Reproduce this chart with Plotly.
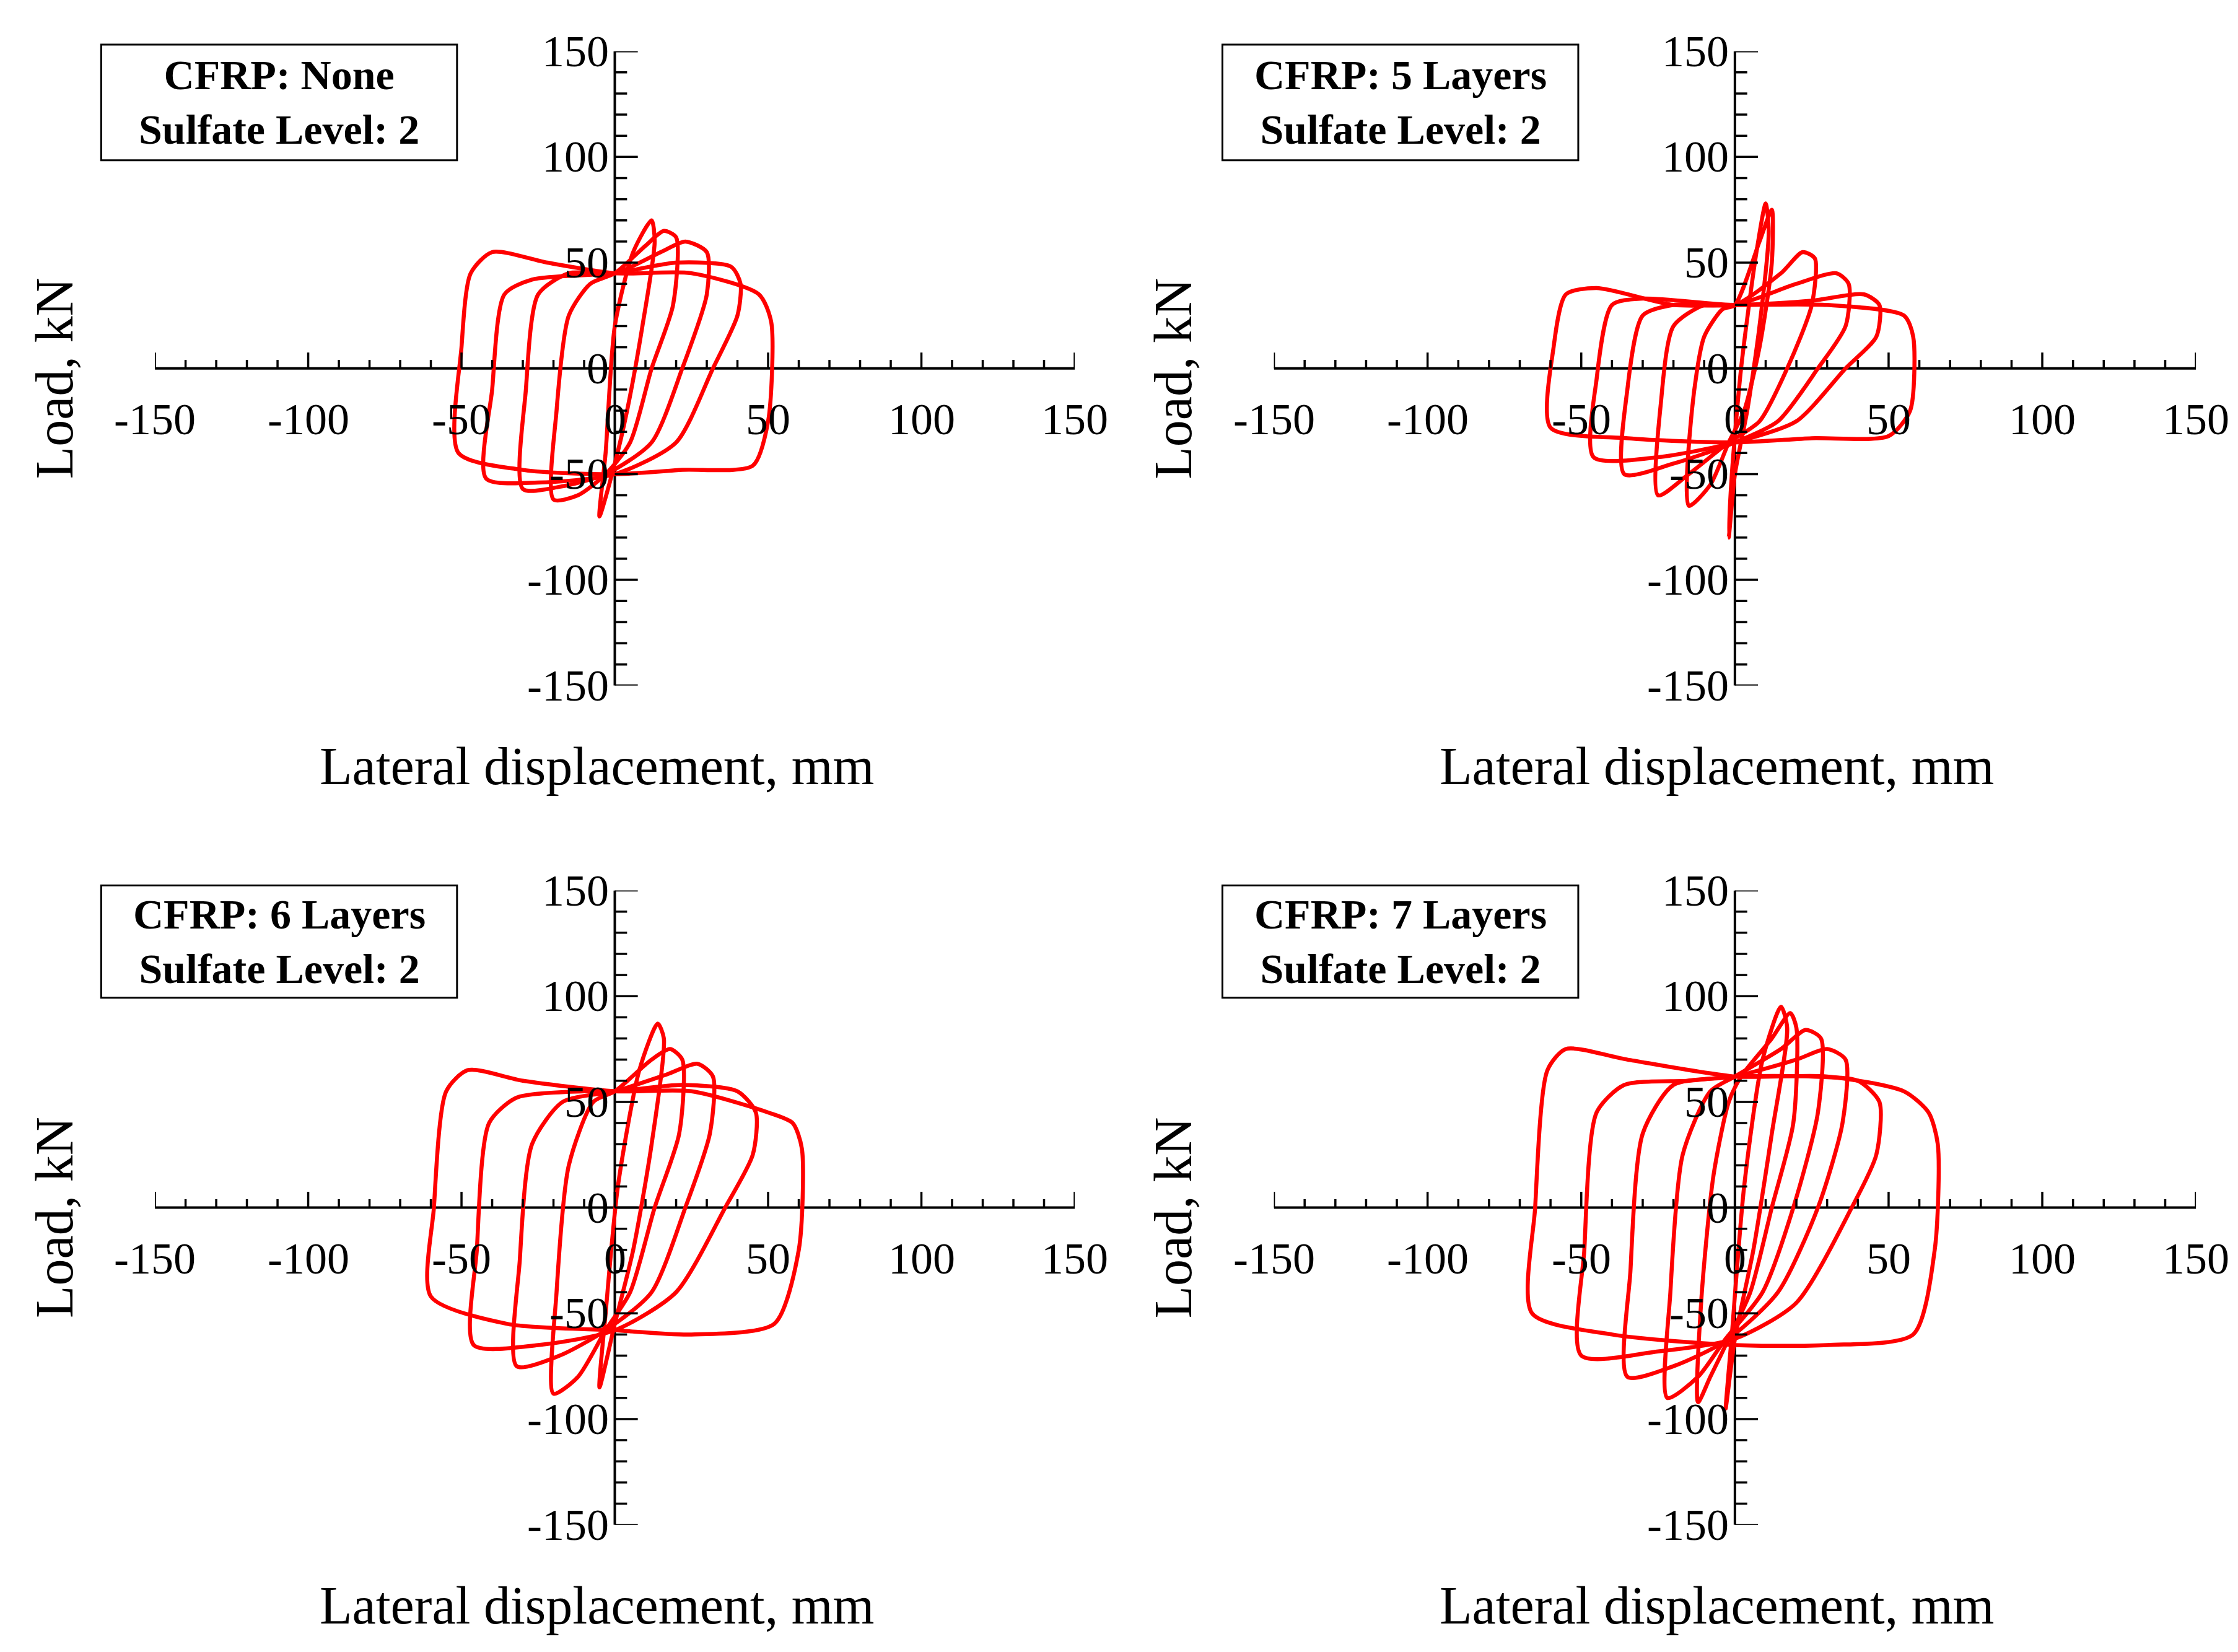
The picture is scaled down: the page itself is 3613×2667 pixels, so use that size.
import plotly.graph_objects as go

# ---------------- data ----------------
titles = [["CFRP: None", "Sulfate Level: 2"], ["CFRP: 5 Layers", "Sulfate Level: 2"],
          ["CFRP: 6 Layers", "Sulfate Level: 2"], ["CFRP: 7 Layers", "Sulfate Level: 2"]]
x_tick_labels = [-150, -100, -50, 0, 50, 100, 150]
y_tick_labels = [150, 100, 50, 0, -50, -100, -150]

# loops: list of (x list, y list)
loops_none = [
    ([-5, -3, 0, 6, 12, 13, 9, 4, 0, -5], [-70, -40, 20, 55, 70, 60, 20, -20, -45, -70]),
    ([-20, -19, -15, -8, 0, 10, 16, 20, 19, 12, 5, -3, -12, -20], [-62, -20, 25, 40, 45, 58, 65, 62, 30, 0, -35, -50, -60, -62]),
    ([-30, -29, -25, -15, 0, 15, 23, 30, 30, 22, 12, -3, -18, -30], [-57, -10, 35, 45, 45, 55, 60, 55, 35, 0, -35, -50, -56, -57]),
    ([-42, -40, -36, -27, 0, 20, 38, 41, 40, 32, 20, 0, -25, -42], [-52, -10, 35, 42, 45, 50, 48, 40, 25, 0, -35, -50, -54, -52]),
    ([-51, -50, -47, -40, -22, 0, 25, 47, 51, 50, 45, 22, 0, -30, -51], [-40, 10, 45, 55, 50, 45, 45, 35, 22, -25, -46, -48, -50, -48, -40]),
]
loops_5 = [
    ([-2, -1, 2, 7, 10, 11, 8, 4, 0, -2], [-80, -50, 0, 55, 78, 65, 20, -20, -50, -80]),
    ([-15, -14, -10, -4, 0, 8, 12, 12, 8, 3, -2, -8, -15], [-65, -20, 15, 28, 30, 60, 75, 50, 10, -20, -35, -55, -65]),
    ([-25, -24, -20, -10, 0, 15, 22, 26, 25, 17, 8, -2, -15, -25], [-60, -15, 20, 30, 30, 45, 55, 52, 30, 0, -25, -35, -50, -60]),
    ([-36, -35, -30, -20, 0, 20, 33, 37, 36, 27, 14, 0, -20, -36], [-50, -10, 25, 30, 30, 40, 45, 40, 20, 0, -25, -35, -45, -50]),
    ([-46, -45, -40, -30, 0, 25, 42, 47, 46, 36, 20, 0, -25, -46], [-42, -5, 30, 33, 30, 32, 35, 30, 15, 0, -25, -35, -42, -42]),
    ([-60, -59, -55, -45, -20, 0, 30, 55, 58, 57, 50, 25, 0, -35, -60], [-28, 10, 35, 38, 30, 30, 30, 25, 15, -20, -32, -33, -35, -33, -28]),
]
loops_6 = [
    ([-5, -3, 1, 8, 14, 16, 12, 6, 0, -5], [-85, -50, 10, 65, 87, 80, 30, -20, -55, -85]),
    ([-20, -19, -15, -7, 0, 12, 18, 22, 21, 13, 5, -3, -12, -20], [-88, -40, 20, 50, 55, 70, 75, 70, 35, 0, -40, -58, -80, -88]),
    ([-32, -31, -27, -17, 0, 17, 27, 32, 31, 23, 12, -3, -18, -32], [-75, -25, 30, 50, 55, 63, 68, 62, 35, 0, -40, -58, -70, -75]),
    ([-46, -45, -41, -32, -10, 0, 22, 40, 46, 45, 36, 20, 0, -25, -46], [-65, -20, 40, 52, 55, 55, 58, 55, 45, 25, 0, -40, -58, -65, -65]),
    ([-60, -59, -55, -48, -30, 0, 25, 50, 58, 61, 60, 52, 25, 0, -35, -60], [-42, 0, 55, 65, 60, 55, 55, 45, 40, 28, -20, -55, -60, -58, -55, -42]),
]
loops_7 = [
    ([-3, -1, 3, 9, 15, 17, 12, 6, 0, -3], [-95, -60, 10, 70, 95, 85, 35, -20, -62, -95]),
    ([-12, -11, -7, -2, 2, 12, 18, 20, 19, 12, 5, -2, -8, -12], [-92, -45, 15, 50, 62, 80, 92, 85, 40, 0, -40, -62, -80, -92]),
    ([-22, -21, -17, -8, 0, 15, 23, 28, 27, 19, 9, -3, -12, -22], [-90, -40, 25, 55, 62, 75, 84, 80, 45, 0, -40, -62, -80, -90]),
    ([-35, -34, -30, -20, 0, 20, 30, 36, 35, 27, 14, -3, -20, -35], [-80, -30, 35, 58, 62, 70, 75, 70, 40, 0, -40, -63, -75, -80]),
    ([-50, -49, -45, -36, -15, 0, 25, 40, 47, 46, 38, 20, 0, -25, -50], [-70, -20, 45, 58, 60, 62, 62, 60, 50, 25, 0, -45, -62, -68, -70]),
    ([-66, -65, -61, -55, -35, 0, 30, 55, 63, 66, 65, 58, 30, 0, -40, -66], [-50, 0, 65, 75, 70, 62, 62, 55, 45, 30, -20, -60, -65, -65, -60, -50]),
]
all_loops = [loops_none, loops_5, loops_6, loops_7]

# ---------------- layout ----------------
xdom = [[0.067, 0.478], [0.567, 0.979], [0.067, 0.478], [0.567, 0.979]]
ydom = [[0.588, 0.972], [0.588, 0.972], [0.080, 0.464], [0.080, 0.464]]
boxes = [[0.043, 0.202, 0.906, 0.976], [0.544, 0.703, 0.906, 0.976],
         [0.043, 0.202, 0.399, 0.467], [0.544, 0.703, 0.399, 0.467]]

FONT = "Liberation Serif"
fig = go.Figure()
layout = dict(width=3613, height=2667, margin=dict(l=0, r=0, t=0, b=0),
              plot_bgcolor="white", paper_bgcolor="white", showlegend=False)
annotations, shapes = [], []

for i in range(4):
    s = "" if i == 0 else str(i + 1)
    xa, ya = "x" + s, "y" + s
    layout["xaxis" + s] = dict(domain=xdom[i], range=[-150, 150], visible=False, anchor=ya)
    layout["yaxis" + s] = dict(domain=ydom[i], range=[-150, 150], visible=False, anchor=xa)
    fig.add_trace(go.Scatter(x=[-150, 150], y=[0, 0], mode="lines", line=dict(color="black", width=4),
                             xaxis=xa, yaxis=ya, hoverinfo="skip"))
    fig.add_trace(go.Scatter(x=[0, 0], y=[-150, 150], mode="lines", line=dict(color="black", width=4),
                             xaxis=xa, yaxis=ya, hoverinfo="skip"))
    for v in range(-150, 151, 10):
        major = v % 50 == 0
        shapes.append(dict(type="line", xref=xa, yref=ya, x0=v, x1=v, y0=0, y1=7.5 if major else 4,
                           line=dict(color="black", width=3.5)))
        shapes.append(dict(type="line", xref=xa, yref=ya, y0=v, y1=v, x0=0, x1=7.5 if major else 4,
                           line=dict(color="black", width=3.5)))
    for v in x_tick_labels:
        annotations.append(dict(x=v, y=0, xref=xa, yref=ya, text=str(v), showarrow=False,
                                xanchor="center", yanchor="middle",
                                yshift=-82, font=dict(family=FONT, size=72, color="black")))
    for v in y_tick_labels:
        annotations.append(dict(x=0, y=v, xref=xa, yref=ya, text=str(v), showarrow=False,
                                xanchor="right", yanchor="middle", xshift=-8,
                                font=dict(family=FONT, size=72, color="black")))
    for lx, ly in all_loops[i]:
        fig.add_trace(go.Scatter(x=lx, y=ly, mode="lines", line=dict(color="#ff0000", width=6.5, shape="spline", smoothing=0.7),
                                 xaxis=xa, yaxis=ya, hoverinfo="skip"))
    cx = (xdom[i][0] + xdom[i][1]) / 2 - 0.008
    annotations.append(dict(x=cx, y=ydom[i][0] - 0.049, xref="paper", yref="paper", text="Lateral displacement, mm",
                            xanchor="center", yanchor="middle",
                            showarrow=False, font=dict(family=FONT, size=86, color="black")))
    annotations.append(dict(x=xdom[i][0] - 0.045, y=(ydom[i][0] + ydom[i][1]) / 2 - 0.006, xref="paper", yref="paper",
                            text="Load, kN", textangle=-90, showarrow=False, xanchor="center", yanchor="middle",
                            font=dict(family=FONT, size=86, color="black")))
    bx0, bx1, by0, by1 = boxes[i]
    shapes.append(dict(type="rect", xref="paper", yref="paper", x0=bx0, x1=bx1, y0=by0, y1=by1,
                       line=dict(color="black", width=3), fillcolor="white", layer="above"))
    annotations.append(dict(x=(bx0 + bx1) / 2, y=(by0 + by1) / 2, xref="paper", yref="paper",
                            xanchor="center", yanchor="middle",
                            text="<b>" + titles[i][0] + "</b><br><b>" + titles[i][1] + "</b>", showarrow=False,
                            font=dict(family=FONT, size=68, color="black")))

layout["annotations"] = annotations
layout["shapes"] = shapes
fig.update_layout(**layout)
fig.write_html("out.html")
